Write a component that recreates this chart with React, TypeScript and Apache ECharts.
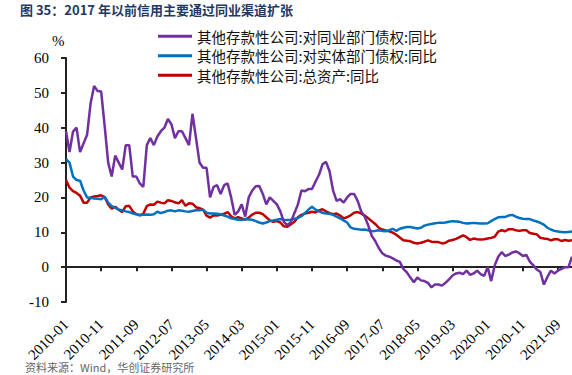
import React, { useEffect, useRef } from "react";
import * as echarts from "echarts";

const months: string[] = [];
for (let y = 2010; y <= 2022; y++) {
  for (let m = 1; m <= 12; m++) {
    if (y === 2022 && m > 1) break;
    months.push(`${y}-${m < 10 ? "0" + m : m}`);
  }
}

const seriesNames = [
  "其他存款性公司:对同业部门债权:同比",
  "其他存款性公司:对实体部门债权:同比",
  "其他存款性公司:总资产:同比",
];

const interbank = [
  39, 33, 38.9, 40, 33, 35.5, 38, 47, 52, 50.5,
  50.4, 40.5, 30, 26, 32, 30, 28, 35, 35, 26,
  26, 24, 23, 35, 37, 35, 37.5, 39, 40, 42.5,
  41, 37, 39, 39, 37, 35, 44, 37, 30, 28.5,
  28.5, 20, 23, 23.5, 21, 23.5, 24, 20, 15, 16,
  18, 14.5, 20, 22, 23.2, 23.3, 21, 18, 20, 19,
  18, 16, 13, 12, 13, 15.5, 18, 22, 21.8, 22.4,
  22.4, 24.5, 26.5, 29.5, 30.2, 27.5, 22, 19, 19.5, 18.5,
  20, 21, 21, 19, 16, 14.5, 12, 9, 7.5, 5.5,
  4, 3.3, 3, 2.5, 1.9, 1.5, -0.5, -1.5, -3, -4.3,
  -3, -3.8, -4, -4.5, -5.8, -5, -5, -5.3, -4.5, -3.5,
  -2.4, -1.8, -1.6, -2, -1, -2.2, -1.8, -1, -2, -2.5,
  0, -4, 0.5, 3, 4.3, 3.2, 3.6, 4.2, 4.5, 4,
  3.2, 3.5, 1.6, 0.5, -0.7, -1.4, -5, -2.8, -1, -1.8,
  -1, -0.5, 0, 0, 3,
];

const realSector = [
  31, 30, 26, 25, 24.8, 22, 20, 19.9, 19.7, 19.6,
  19.5, 20.2, 18.5, 17.5, 17, 16.5, 16.3, 16, 15.8, 15.4,
  15.2, 14.9, 15, 15.1, 15, 15.2, 15.9, 15.5, 15.8, 16.2,
  16.3, 16, 16.3, 16.2, 16, 15.9, 16.1, 16.3, 16.3, 16.5,
  15.6, 15.4, 15.4, 15.3, 15.2, 14.8, 14.5, 14, 13.8, 13.6,
  13.5, 13.8, 13.7, 13.6, 13.2, 12.8, 12.5, 12.8, 13.2, 13.4,
  13.6, 13.8, 13.6, 13.5, 13.6, 13.9, 14.1, 14.6, 15.5, 16.5,
  17.3, 16.5, 16, 15.6, 15.4, 15.3, 15, 14.5, 14, 13.4,
  12.8, 11.4, 11, 10.9, 10.7, 10.8, 10.6, 10.3, 10.4, 10.6,
  10.4, 10.3, 10.6, 11, 10.4, 11, 11.3, 11.5, 11.5, 11.3,
  11.1, 11.3, 11.9, 12.2, 12.4, 12.6, 12.7, 12.7, 12.8, 13,
  13.2, 13.1, 13, 12.7, 12.5, 12.6, 12.7, 12.6, 12.5, 12.5,
  12.6, 13.2, 13.8, 14.3, 14.4, 14.4, 14.8, 15, 14.5, 14.1,
  13.9, 13.8, 13.8, 13.4, 13.1, 12.7, 12.2, 11.3, 10.8, 10.4,
  10.2, 10.1, 10, 10.1, 10.2,
];

const totalAssets = [
  25, 22.8, 21.8, 21.3, 20.5, 18.5, 18.5, 20, 20.3, 20.4,
  20.6, 20.1, 18, 16.8, 17.3, 16.5, 15.8, 17.5, 17.6, 16,
  15.2, 14.9, 15.3, 17.5, 18, 17.9, 18.8, 18.5, 18.3, 19.2,
  19, 18.6, 18.3, 19.2, 17.6, 18.3, 18.2, 17.2, 16.9, 16.5,
  14.8, 14.2, 14.9, 14.8, 15, 15.3, 15.8, 14.6, 14, 14.3,
  14, 13.6, 14.2, 15.1, 15.6, 15.6, 15.2, 14.3, 13.4, 13,
  13.2, 12.8, 11.7, 11.6, 12.3, 13, 14.3, 15, 15.4, 15.6,
  15.9, 15.7, 16.3, 16.6, 16, 15.5, 15.2, 15.4, 14.8, 14,
  14.3, 14.9, 15.6, 15.8, 15.4, 14.8, 14, 13.2, 12.4, 11.3,
  10.8, 10.5, 10.3, 9.9, 9.3, 8.5, 7.7, 7.6, 7.4, 7,
  6.8, 7, 7.3, 7.7, 7.3, 7.2, 7.2, 6.8, 7, 7.6,
  7.8, 8.1, 8.6, 9.1, 8.6, 7.8, 8.2, 8, 7.9, 8,
  8.2, 8.4, 8.7, 10.2, 10.6, 10.3, 10.9, 10.9, 10.6, 10.4,
  10.6, 10.6, 9.8, 9.6, 9.4, 8.4, 8.2, 8.1, 7.7, 8,
  8, 7.5, 7.8, 7.6, 7.7,
];

const colors = ["#7030A0", "#0070C0", "#C00000"];
const seriesData = [interbank, realSector, totalAssets];

const titleText = "图 35：2017 年以前信用主要通过同业渠道扩张";
const sourceText = "资料来源：Wind，华创证券研究所";
const serif = "'Liberation Serif', 'Times New Roman', serif";
const cjk = "'Noto Sans CJK SC', sans-serif";

export default function App() {
  const ref = useRef<HTMLDivElement>(null);
  useEffect(() => {
    if (!ref.current) return;
    const chart = echarts.init(ref.current, undefined, { renderer: "svg" });
    chart.setOption({
      animation: false,
      backgroundColor: "#ffffff",
      title: {
        text: titleText,
        left: 15,
        top: -2,
        textStyle: {
          fontFamily: cjk,
          fontSize: 13,
          fontWeight: "bold",
          color: "#1f3864",
        },
      },
      grid: { left: 66, right: 0, top: 58, bottom: 73, containLabel: false },
      legend: {
        orient: "vertical",
        left: 153,
        top: 24,
        itemWidth: 34,
        itemHeight: 3,
        itemGap: 5,
        icon: "rect",
        data: seriesNames,
        textStyle: { fontFamily: cjk, fontSize: 14.5, color: "#111" },
        selectedMode: false,
      },
      xAxis: [
        {
          type: "category",
          data: months,
          boundaryGap: false,
          position: "bottom",
          axisLine: { show: false, onZero: false },
          axisTick: { show: false },
          axisLabel: {
            interval: 9,
            rotate: 45,
            margin: 20,
            fontFamily: serif,
            fontSize: 15,
            color: "#000",
          },
          splitLine: { show: false },
        },
        {
          type: "category",
          data: months,
          boundaryGap: false,
          position: "bottom",
          axisLine: { show: true, onZero: true, lineStyle: { color: "#222", width: 2 } },
          axisTick: { show: true, interval: 9, length: 4, lineStyle: { color: "#222", width: 2 } },
          axisLabel: { show: false },
          splitLine: { show: false },
        },
      ],
      yAxis: {
        type: "value",
        min: -10,
        max: 60,
        interval: 10,
        axisLine: { show: true, lineStyle: { color: "#222", width: 2 } },
        axisTick: { show: true, length: 5, lineStyle: { color: "#222", width: 2 } },
        axisLabel: { margin: 17, fontFamily: serif, fontSize: 15, color: "#000" },
        splitLine: { show: false },
      },
      graphic: [
        {
          type: "text",
          left: 52,
          top: 33,
          style: { text: "%", fill: "#000", font: `15px ${serif}` },
        },
        {
          type: "text",
          left: 25,
          top: 361,
          style: { text: sourceText, fill: "#666", font: `11px ${cjk}` },
        },
      ],
      series: seriesNames.map((n, i) => ({
        name: n,
        type: "line",
        xAxisIndex: 0,
        data: seriesData[i],
        symbol: "none",
        smooth: false,
        lineStyle: { color: colors[i], width: 2.5 },
        itemStyle: { color: colors[i] },
        z: 3 - i,
      })),
    });
    return () => chart.dispose();
  }, []);
  return (
    <div
      ref={ref}
      style={{ position: "absolute", left: 0, top: 0, width: 572, height: 375 }}
    />
  );
}
